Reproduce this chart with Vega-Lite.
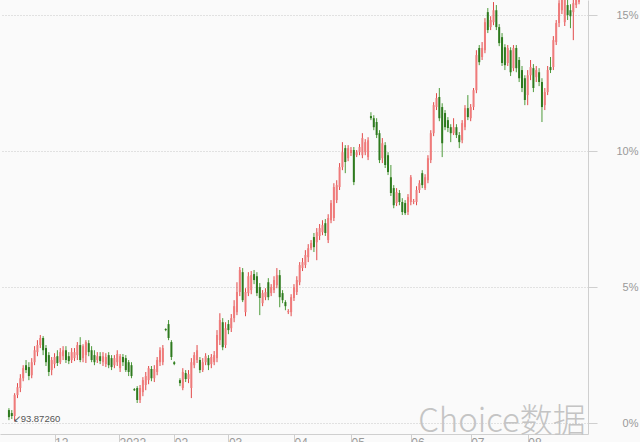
{
"$schema": "https://vega.github.io/schema/vega-lite/v6.json",
"width": 588, "height": 434,
"autosize": {"type": "none"},
"padding": {"left": 0, "top": 0, "right": 52, "bottom": 8},
"background": "#fafafa",
"config": {"view": {"stroke": null}, "font": "Liberation Sans"},
"data": {"values": [
{"i":0,"open":0.48,"high":0.55,"low":0.11,"close":0.22},
{"i":1,"open":0.37,"high":0.48,"low":0.15,"close":0.26},
{"i":2,"open":0.26,"high":1.10,"low":0.07,"close":1.03},
{"i":3,"open":1.03,"high":1.47,"low":0.92,"close":1.32},
{"i":4,"open":1.29,"high":1.80,"low":1.14,"close":1.65},
{"i":5,"open":1.65,"high":2.13,"low":1.54,"close":2.02},
{"i":6,"open":2.13,"high":2.32,"low":1.84,"close":1.95},
{"i":7,"open":2.06,"high":2.24,"low":1.58,"close":1.73},
{"i":8,"open":1.76,"high":2.39,"low":1.65,"close":2.24},
{"i":9,"open":2.24,"high":2.83,"low":2.13,"close":2.68},
{"i":10,"open":2.61,"high":3.05,"low":2.46,"close":2.87},
{"i":11,"open":2.87,"high":3.24,"low":2.76,"close":3.13},
{"i":12,"open":3.13,"high":3.20,"low":2.50,"close":2.68},
{"i":13,"open":2.76,"high":2.87,"low":2.10,"close":2.24},
{"i":14,"open":2.50,"high":2.61,"low":1.73,"close":1.88},
{"i":15,"open":1.95,"high":2.43,"low":1.76,"close":2.32},
{"i":16,"open":2.17,"high":2.57,"low":2.02,"close":2.43},
{"i":17,"open":2.46,"high":2.68,"low":2.10,"close":2.21},
{"i":18,"open":2.24,"high":2.76,"low":2.17,"close":2.61},
{"i":19,"open":2.46,"high":2.83,"low":2.32,"close":2.68},
{"i":20,"open":2.68,"high":2.83,"low":2.21,"close":2.32},
{"i":21,"open":2.46,"high":2.61,"low":2.17,"close":2.28},
{"i":22,"open":2.32,"high":2.76,"low":2.21,"close":2.61},
{"i":23,"open":2.39,"high":2.76,"low":2.28,"close":2.61},
{"i":24,"open":2.50,"high":2.98,"low":2.32,"close":2.87},
{"i":25,"open":2.87,"high":3.16,"low":2.24,"close":2.32},
{"i":26,"open":2.39,"high":2.90,"low":2.24,"close":2.83},
{"i":27,"open":2.50,"high":3.05,"low":2.21,"close":2.98},
{"i":28,"open":2.94,"high":3.05,"low":2.46,"close":2.61},
{"i":29,"open":2.68,"high":2.83,"low":2.24,"close":2.32},
{"i":30,"open":2.50,"high":2.68,"low":2.13,"close":2.24},
{"i":31,"open":2.32,"high":2.61,"low":2.21,"close":2.46},
{"i":32,"open":2.46,"high":2.61,"low":2.17,"close":2.28},
{"i":33,"open":2.24,"high":2.61,"low":2.10,"close":2.46},
{"i":34,"open":2.17,"high":2.57,"low":2.06,"close":2.43},
{"i":35,"open":2.50,"high":2.61,"low":2.02,"close":2.13},
{"i":36,"open":2.39,"high":2.50,"low":1.95,"close":2.06},
{"i":37,"open":2.13,"high":2.50,"low":2.02,"close":2.39},
{"i":38,"open":2.24,"high":2.68,"low":2.10,"close":2.54},
{"i":39,"open":2.02,"high":2.54,"low":1.88,"close":2.46},
{"i":40,"open":2.43,"high":2.54,"low":2.10,"close":2.24},
{"i":41,"open":2.39,"high":2.50,"low":1.88,"close":1.95},
{"i":42,"open":2.24,"high":2.32,"low":1.73,"close":1.88},
{"i":43,"open":2.13,"high":2.24,"low":1.65,"close":1.73},
{"i":44,"open":1.25,"high":1.29,"low":1.18,"close":1.21},
{"i":45,"open":1.29,"high":1.36,"low":0.74,"close":0.85},
{"i":46,"open":0.85,"high":1.40,"low":0.74,"close":1.29},
{"i":47,"open":1.14,"high":1.69,"low":0.99,"close":1.58},
{"i":48,"open":1.40,"high":1.88,"low":1.21,"close":1.73},
{"i":49,"open":1.58,"high":2.10,"low":1.43,"close":2.02},
{"i":50,"open":1.99,"high":2.10,"low":1.54,"close":1.65},
{"i":51,"open":1.65,"high":2.13,"low":1.51,"close":1.99},
{"i":52,"open":1.88,"high":2.43,"low":1.76,"close":2.32},
{"i":53,"open":2.24,"high":2.79,"low":2.10,"close":2.68},
{"i":54,"open":2.24,"high":2.87,"low":2.13,"close":2.76},
{"i":55,"open":3.46,"high":3.49,"low":3.38,"close":3.42},
{"i":56,"open":3.64,"high":3.79,"low":3.05,"close":3.13},
{"i":57,"open":2.98,"high":3.05,"low":2.32,"close":2.43},
{"i":58,"open":2.24,"high":2.28,"low":2.13,"close":2.17},
{"i":60,"open":1.58,"high":1.65,"low":1.36,"close":1.47},
{"i":61,"open":1.29,"high":2.02,"low":1.21,"close":1.88},
{"i":62,"open":1.84,"high":1.95,"low":1.51,"close":1.62},
{"i":63,"open":1.62,"high":1.95,"low":1.47,"close":1.80},
{"i":64,"open":1.29,"high":2.39,"low":0.92,"close":2.24},
{"i":65,"open":2.13,"high":2.61,"low":2.02,"close":2.50},
{"i":66,"open":2.32,"high":2.87,"low":2.21,"close":2.68},
{"i":67,"open":2.32,"high":2.43,"low":1.84,"close":1.95},
{"i":68,"open":1.95,"high":2.39,"low":1.88,"close":2.24},
{"i":69,"open":2.24,"high":2.57,"low":2.13,"close":2.46},
{"i":70,"open":2.39,"high":2.50,"low":1.95,"close":2.13},
{"i":71,"open":2.17,"high":2.54,"low":2.02,"close":2.43},
{"i":72,"open":2.24,"high":2.65,"low":2.13,"close":2.50},
{"i":73,"open":2.39,"high":3.42,"low":2.24,"close":3.24},
{"i":74,"open":3.05,"high":4.04,"low":2.87,"close":3.79},
{"i":75,"open":3.71,"high":3.86,"low":2.68,"close":2.79},
{"i":76,"open":2.87,"high":3.71,"low":2.76,"close":3.49},
{"i":77,"open":3.64,"high":3.79,"low":3.27,"close":3.42},
{"i":78,"open":3.49,"high":4.01,"low":3.35,"close":3.86},
{"i":79,"open":3.86,"high":4.52,"low":3.71,"close":4.30},
{"i":80,"open":4.08,"high":5.18,"low":3.97,"close":4.82},
{"i":81,"open":4.82,"high":5.74,"low":4.67,"close":5.63},
{"i":82,"open":5.55,"high":5.70,"low":4.45,"close":4.52},
{"i":83,"open":4.08,"high":4.96,"low":3.93,"close":4.82},
{"i":84,"open":4.78,"high":5.55,"low":4.67,"close":5.40},
{"i":85,"open":4.89,"high":5.59,"low":4.74,"close":5.44},
{"i":86,"open":5.48,"high":5.63,"low":5.11,"close":5.26},
{"i":87,"open":5.40,"high":5.55,"low":4.67,"close":4.78},
{"i":88,"open":5.00,"high":5.15,"low":3.97,"close":4.60},
{"i":89,"open":4.41,"high":4.89,"low":4.30,"close":4.78},
{"i":90,"open":4.63,"high":4.96,"low":4.52,"close":4.82},
{"i":91,"open":5.18,"high":5.33,"low":4.52,"close":4.63},
{"i":92,"open":4.78,"high":5.11,"low":4.67,"close":5.00},
{"i":93,"open":4.89,"high":5.40,"low":4.78,"close":5.26},
{"i":94,"open":5.07,"high":5.70,"low":4.96,"close":5.44},
{"i":95,"open":5.44,"high":5.63,"low":4.26,"close":4.63},
{"i":96,"open":4.78,"high":4.89,"low":4.41,"close":4.52},
{"i":97,"open":4.45,"high":4.52,"low":4.15,"close":4.30},
{"i":98,"open":4.08,"high":4.19,"low":4.01,"close":4.12},
{"i":99,"open":4.08,"high":4.74,"low":3.93,"close":4.63},
{"i":100,"open":4.60,"high":5.11,"low":4.49,"close":5.00},
{"i":101,"open":4.82,"high":5.40,"low":4.71,"close":5.26},
{"i":102,"open":5.18,"high":5.92,"low":5.07,"close":5.81},
{"i":103,"open":5.70,"high":6.07,"low":5.59,"close":5.92},
{"i":104,"open":5.81,"high":6.36,"low":5.70,"close":6.18},
{"i":105,"open":6.10,"high":6.58,"low":5.92,"close":6.43},
{"i":106,"open":6.43,"high":6.73,"low":6.36,"close":6.62},
{"i":107,"open":6.84,"high":6.99,"low":6.29,"close":6.47},
{"i":108,"open":6.65,"high":7.17,"low":5.99,"close":7.02},
{"i":109,"open":6.88,"high":7.32,"low":6.73,"close":7.17},
{"i":110,"open":7.02,"high":7.46,"low":6.91,"close":7.28},
{"i":111,"open":7.35,"high":7.50,"low":6.88,"close":6.99},
{"i":112,"open":6.73,"high":7.68,"low":6.62,"close":7.54},
{"i":113,"open":7.46,"high":8.20,"low":7.35,"close":8.09},
{"i":114,"open":7.54,"high":8.82,"low":7.43,"close":8.68},
{"i":115,"open":8.20,"high":8.93,"low":8.09,"close":8.75},
{"i":116,"open":8.68,"high":9.56,"low":8.57,"close":9.41},
{"i":117,"open":9.41,"high":10.33,"low":9.30,"close":9.96},
{"i":118,"open":10.11,"high":10.22,"low":9.19,"close":9.60},
{"i":119,"open":9.74,"high":10.22,"low":9.63,"close":10.11},
{"i":120,"open":9.93,"high":10.15,"low":9.82,"close":10.04},
{"i":121,"open":10.04,"high":10.15,"low":8.75,"close":8.86},
{"i":122,"open":9.85,"high":10.04,"low":9.78,"close":9.96},
{"i":123,"open":9.96,"high":10.26,"low":9.85,"close":10.15},
{"i":124,"open":9.85,"high":10.66,"low":9.74,"close":10.48},
{"i":125,"open":9.96,"high":10.44,"low":9.85,"close":10.33},
{"i":126,"open":9.78,"high":10.51,"low":9.67,"close":10.40},
{"i":127,"open":11.29,"high":11.43,"low":11.14,"close":11.21},
{"i":128,"open":11.21,"high":11.32,"low":10.77,"close":10.88},
{"i":129,"open":11.07,"high":11.21,"low":10.48,"close":10.59},
{"i":130,"open":10.66,"high":10.77,"low":9.56,"close":9.67},
{"i":131,"open":9.74,"high":10.48,"low":9.56,"close":10.29},
{"i":132,"open":10.22,"high":10.33,"low":9.38,"close":9.49},
{"i":133,"open":9.85,"high":9.96,"low":9.12,"close":9.23},
{"i":134,"open":9.04,"high":9.49,"low":8.35,"close":8.46},
{"i":135,"open":8.64,"high":8.75,"low":7.90,"close":8.01},
{"i":136,"open":8.09,"high":8.64,"low":7.98,"close":8.49},
{"i":137,"open":8.46,"high":8.57,"low":8.01,"close":8.13},
{"i":138,"open":8.13,"high":8.27,"low":7.65,"close":7.76},
{"i":139,"open":8.09,"high":8.20,"low":7.65,"close":7.72},
{"i":140,"open":7.76,"high":8.42,"low":7.65,"close":8.31},
{"i":141,"open":8.13,"high":9.12,"low":8.01,"close":9.04},
{"i":142,"open":8.13,"high":8.24,"low":8.05,"close":8.16},
{"i":143,"open":8.13,"high":8.71,"low":8.01,"close":8.57},
{"i":144,"open":8.57,"high":8.93,"low":8.46,"close":8.82},
{"i":145,"open":9.19,"high":9.30,"low":8.64,"close":8.75},
{"i":146,"open":8.64,"high":9.15,"low":8.57,"close":9.04},
{"i":147,"open":8.93,"high":9.85,"low":8.82,"close":9.74},
{"i":148,"open":9.67,"high":10.77,"low":9.56,"close":10.66},
{"i":149,"open":10.66,"high":11.80,"low":10.55,"close":11.69},
{"i":150,"open":11.62,"high":12.13,"low":11.51,"close":11.95},
{"i":151,"open":11.99,"high":12.32,"low":11.10,"close":11.21},
{"i":152,"open":11.62,"high":11.76,"low":9.78,"close":10.29},
{"i":153,"open":11.40,"high":11.51,"low":10.77,"close":10.88},
{"i":154,"open":11.14,"high":11.25,"low":10.70,"close":10.85},
{"i":155,"open":10.88,"high":10.99,"low":10.33,"close":10.66},
{"i":156,"open":10.66,"high":11.21,"low":10.59,"close":10.88},
{"i":157,"open":10.88,"high":10.99,"low":10.48,"close":10.59},
{"i":158,"open":10.59,"high":10.70,"low":10.11,"close":10.33},
{"i":159,"open":10.40,"high":11.14,"low":10.29,"close":11.03},
{"i":160,"open":10.88,"high":11.69,"low":10.77,"close":11.58},
{"i":161,"open":11.58,"high":12.06,"low":11.14,"close":11.25},
{"i":162,"open":11.21,"high":11.73,"low":11.10,"close":11.62},
{"i":163,"open":11.62,"high":12.32,"low":11.51,"close":12.24},
{"i":164,"open":12.24,"high":13.71,"low":12.13,"close":13.53},
{"i":165,"open":13.79,"high":13.90,"low":13.16,"close":13.27},
{"i":166,"open":13.46,"high":14.01,"low":13.35,"close":13.79},
{"i":167,"open":13.71,"high":14.89,"low":13.60,"close":14.74},
{"i":168,"open":15.11,"high":15.26,"low":14.34,"close":14.45},
{"i":169,"open":14.56,"high":14.96,"low":14.45,"close":14.82},
{"i":170,"open":14.74,"high":15.48,"low":14.63,"close":15.18},
{"i":171,"open":15.18,"high":15.37,"low":14.45,"close":14.56},
{"i":172,"open":14.56,"high":14.67,"low":13.86,"close":13.97},
{"i":173,"open":14.19,"high":14.34,"low":13.13,"close":13.24},
{"i":174,"open":13.82,"high":13.93,"low":12.98,"close":13.16},
{"i":175,"open":13.24,"high":13.90,"low":13.13,"close":13.79},
{"i":176,"open":13.71,"high":13.82,"low":12.76,"close":12.90},
{"i":177,"open":13.05,"high":13.90,"low":12.94,"close":13.79},
{"i":178,"open":13.79,"high":13.90,"low":12.90,"close":13.05},
{"i":179,"open":13.35,"high":13.46,"low":12.54,"close":12.68},
{"i":180,"open":12.98,"high":13.13,"low":12.17,"close":12.32},
{"i":181,"open":12.68,"high":12.79,"low":11.69,"close":11.88},
{"i":182,"open":12.06,"high":12.98,"low":11.69,"close":12.79},
{"i":183,"open":12.79,"high":13.35,"low":12.61,"close":13.09},
{"i":184,"open":13.05,"high":13.20,"low":12.17,"close":12.32},
{"i":185,"open":12.72,"high":13.13,"low":12.54,"close":12.98},
{"i":186,"open":12.90,"high":13.05,"low":12.39,"close":12.54},
{"i":187,"open":12.54,"high":12.68,"low":11.07,"close":11.62},
{"i":188,"open":11.69,"high":12.32,"low":11.51,"close":12.17},
{"i":189,"open":12.17,"high":13.13,"low":12.06,"close":12.98},
{"i":190,"open":13.09,"high":13.46,"low":12.87,"close":12.98},
{"i":191,"open":13.09,"high":14.23,"low":12.98,"close":14.08},
{"i":192,"open":14.01,"high":14.82,"low":13.90,"close":14.71},
{"i":193,"open":14.71,"high":15.55,"low":14.56,"close":15.44},
{"i":194,"open":15.18,"high":15.70,"low":15.04,"close":15.60},
{"i":195,"open":14.74,"high":15.70,"low":14.60,"close":15.60},
{"i":196,"open":15.37,"high":15.60,"low":14.82,"close":15.00},
{"i":197,"open":15.18,"high":15.40,"low":14.52,"close":14.96},
{"i":198,"open":15.11,"high":15.60,"low":14.08,"close":15.44},
{"i":199,"open":15.37,"high":15.70,"low":15.26,"close":15.60},
{"i":200,"open":15.48,"high":15.70,"low":15.40,"close":15.65}
]},
"layer": [
  {"mark": {"type": "rule", "clip": true, "strokeWidth": 1},
   "encoding": {
     "x": {"field": "i", "type": "quantitative",
       "scale": {"domain": [-1.38, 201.4], "nice": false, "zero": false},
       "axis": {"values": [16, 38.6, 58, 77, 100, 120, 141, 162, 182],
         "labelExpr": "datum.value < 20 ? '12' : datum.value < 45 ? '2022' : datum.value < 65 ? '02' : datum.value < 90 ? '03' : datum.value < 110 ? '04' : datum.value < 130 ? '05' : datum.value < 150 ? '06' : datum.value < 170 ? '07' : '08'",
         "grid": false, "domainColor": "#cfcfcf", "tickColor": "#cfcfcf", "tickSize": 8,
         "labelAlign": "left", "labelBaseline": "top", "labelPadding": -5, "labelDx": 2,
         "labelColor": "#999999", "labelFontSize": 12, "labelFlush": false, "labelOverlap": false, "title": null}},
     "y": {"field": "low", "type": "quantitative",
       "scale": {"domain": [-0.40, 15.556], "nice": false, "zero": false},
       "axis": {"orient": "right", "values": [0, 5, 10, 15], "labelExpr": "datum.value + '%'",
         "grid": true, "gridDash": [1, 2], "gridColor": "#c8c8c8", "domainColor": "#cfcfcf",
         "tickColor": "#cfcfcf", "tickSize": 9, "labelColor": "#999999", "labelFontSize": 11,
         "labelAlign": "right", "labelPadding": 41, "title": null}},
     "y2": {"field": "high"},
     "color": {"condition": {"test": "datum.close >= datum.open", "value": "#e24a4a"}, "value": "#4d9a3a"}
   }},
  {"mark": {"type": "bar", "size": 2, "clip": true},
   "encoding": {
     "x": {"field": "i", "type": "quantitative", "title": null},
     "y": {"field": "open", "type": "quantitative", "title": null},
     "y2": {"field": "close"},
     "color": {"condition": {"test": "datum.close >= datum.open", "value": "#ef7b7b"}, "value": "#2e7a1e"}
   }},
  {"data": {"values": [{"note": "↙93.87260"}]},
   "mark": {"type": "text", "align": "left", "baseline": "alphabetic", "fontSize": 9.5, "color": "#555555", "dx": -2, "dy": 1},
   "encoding": {"x": {"datum": 2, "type": "quantitative"}, "y": {"datum": 0.07, "type": "quantitative"}, "text": {"field": "note"}}},
  {"data": {"values": [{"mark": "Choice数据"}]},
   "mark": {"type": "text", "align": "right", "baseline": "alphabetic", "fontSize": 33, "fontWeight": 300, "color": "#c4c4c4", "font": "Noto Sans CJK SC", "dx": 6},
   "encoding": {"x": {"datum": 200.3, "type": "quantitative"}, "y": {"datum": -0.33, "type": "quantitative"}, "text": {"field": "mark"}}}
]
}
